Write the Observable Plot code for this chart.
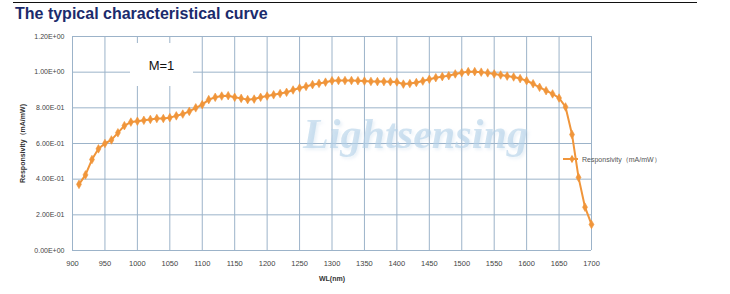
<!DOCTYPE html>
<html>
<head>
<meta charset="utf-8">
<script src="https://cdn.jsdelivr.net/npm/d3@7"></script>
<script src="https://cdn.jsdelivr.net/npm/@observablehq/plot@0.6"></script>
<style>
  html, body { margin: 0; padding: 0; background: #fff; }
  #wrap { position: relative; width: 730px; height: 294px; overflow: hidden; font-family: "Liberation Sans", Arial, sans-serif; }
  #topline { position: absolute; left: 13px; top: 2px; width: 684px; height: 0; border-top: 1.6px solid #111; }
  #title { position: absolute; left: 15px; top: 5px; font-size: 16px; font-weight: bold; color: #1b2b6c; white-space: nowrap; letter-spacing: 0px; }
  #chart { position: absolute; left: 0; top: 0; }
  #mbox { position: absolute; left: 130px; top: 43px; width: 63px; height: 43px; background: #fff; }
  #mtext { position: absolute; left: 130px; top: 58px; width: 63px; text-align: center; font-size: 13px; color: #111; }
  #wm { position: absolute; left: 0; top: 0; pointer-events: none; }
  #legend { position: absolute; left: 562px; top: 153px; }
</style>
</head>
<body>
<div id="wrap">
  <div id="topline"></div>
  <div id="title">The typical characteristical curve</div>
  <div id="chart"></div>
  <svg id="wm" width="730" height="294">
    <defs>
      <filter id="soft" x="-10%" y="-30%" width="120%" height="160%">
        <feGaussianBlur in="SourceAlpha" stdDeviation="1.5" result="b"/>
        <feOffset in="b" dx="1.5" dy="2" result="o"/>
        <feFlood flood-color="#9dbfdc" flood-opacity="0.35"/>
        <feComposite in2="o" operator="in" result="s"/>
        <feMerge><feMergeNode in="s"/><feMergeNode in="SourceGraphic"/></feMerge>
      </filter>
    </defs>
    <text x="303" y="148" font-family="Liberation Serif, DejaVu Serif, serif" font-style="italic" font-weight="bold" font-size="43" textLength="225" lengthAdjust="spacingAndGlyphs" fill="#b3d0e8" fill-opacity="0.6" filter="url(#soft)">Lightsensing</text>
  </svg>
  <div id="mbox"></div>
  <div id="mtext">M=1</div>
  <svg id="legend" width="120" height="12"></svg>
</div>
<script>
const seriesName = "Responsivity（mA/mW）";
const wavelengths = [910,920,930,940,950,960,970,980,990,1000,
  1010,1020,1030,1040,1050,1060,1070,1080,1090,1100,
  1110,1120,1130,1140,1150,1160,1170,1180,1190,1200,
  1210,1220,1230,1240,1250,1260,1270,1280,1290,1300,
  1310,1320,1330,1340,1350,1360,1370,1380,1390,1400,
  1410,1420,1430,1440,1450,1460,1470,1480,1490,1500,
  1510,1520,1530,1540,1550,1560,1570,1580,1590,1600,
  1610,1620,1630,1640,1650,1660,1670,1680,1690,1700];
const responsivity = [0.371,0.424,0.51,0.57,0.60,0.62,0.66,0.70,0.72,0.725,
  0.73,0.735,0.74,0.74,0.745,0.755,0.765,0.78,0.80,0.818,
  0.846,0.859,0.866,0.868,0.859,0.853,0.846,0.849,0.859,0.866,
  0.873,0.88,0.887,0.90,0.911,0.92,0.93,0.937,0.944,0.952,
  0.953,0.953,0.953,0.952,0.95,0.948,0.947,0.947,0.946,0.945,
  0.933,0.936,0.942,0.95,0.96,0.969,0.975,0.98,0.99,0.997,
  1.003,1.003,1.0,0.996,0.99,0.984,0.978,0.973,0.964,0.952,
  0.935,0.915,0.896,0.878,0.855,0.805,0.65,0.41,0.243,0.146];
const xTicks = [900,950,1000,1050,1100,1150,1200,1250,1300,1350,1400,1450,1500,1550,1600,1650,1700];
const yTicks = [0,0.2,0.4,0.6,0.8,1.0,1.2];
const yTickLabels = ["0.00E+00","2.00E-01","4.00E-01","6.00E-01","8.00E-01","1.00E+00","1.20E+00"];
const xLabel = "WL(nm)";
const yLabel = "Responsivity（mA/mW)";

const data = wavelengths.map((w, i) => ({wl: w, r: responsivity[i]}));

const gridColor = "#9cb3c9";
const lineColor = "#f0953a";

const chart = Plot.plot({
  width: 730,
  height: 294,
  marginLeft: 72,
  marginRight: 139,
  marginTop: 36,
  marginBottom: 44,
  style: {background: "transparent", fontFamily: "Liberation Sans, Arial, sans-serif", color: "#444"},
  x: {domain: [900, 1700], ticks: xTicks},
  y: {domain: [0, 1.2], ticks: yTicks},
  marks: [
    Plot.gridX(xTicks, {stroke: gridColor, strokeOpacity: 1, strokeWidth: 1}),
    Plot.gridY(yTicks, {stroke: gridColor, strokeOpacity: 1, strokeWidth: 1}),
    Plot.axisX(xTicks, {tickSize: 0, tickPadding: 10, fontSize: 7.5, fill: "#444",
      tickFormat: (d) => String(d),
      label: xLabel, labelAnchor: "center", labelOffset: 30, labelArrow: "none"}),
    Plot.axisY(yTicks, {tickSize: 0, tickPadding: 8, fontSize: 7, fill: "#444",
      tickFormat: (d) => yTickLabels[yTicks.indexOf(d)],
      label: yLabel, labelAnchor: "center", labelOffset: 52, labelArrow: "none"}),
    Plot.line(data, {x: "wl", y: "r", stroke: lineColor, strokeWidth: 2}),
    Plot.dot(data, {x: "wl", y: "r", symbol: "diamond", r: 2.6, fill: lineColor, stroke: lineColor, strokeWidth: 0.6})
  ]
});
document.getElementById("chart").appendChild(chart);

// style axis labels (bold, small)
d3.select(chart).selectAll("g[aria-label='x-axis label'] text, g[aria-label='y-axis label'] text")
  .attr("font-weight", "bold").attr("font-size", 7).attr("fill", "#333");

// legend
const lg = d3.select("#legend");
lg.append("line").attr("x1", 1).attr("x2", 16).attr("y1", 6).attr("y2", 6).attr("stroke", lineColor).attr("stroke-width", 2);
lg.append("path").attr("d", d3.symbol(d3.symbolDiamond, 22)()).attr("transform", "translate(10,6)").attr("fill", lineColor);
lg.append("text").attr("x", 20).attr("y", 8.5).attr("font-size", 7).attr("fill", "#555")
  .attr("font-family", "Liberation Sans, Arial, sans-serif").text(seriesName);
</script>
</body>
</html>
